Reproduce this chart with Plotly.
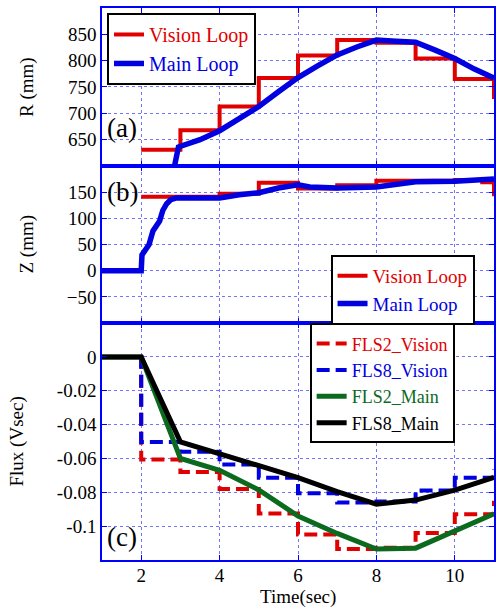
import plotly.graph_objects as go

# ---------------- data ----------------
# Panel (a): R (mm)
t_r_vision = [2, 3, 4, 5, 6, 7, 8, 9, 10, 11]
r_vision = [631, 668, 713, 767, 810, 839, 834, 804, 765, 727]
t_r_main = [2.85, 2.95, 3.5, 4, 4.5, 5, 5.5, 6, 6.5, 7, 7.5, 8, 8.5, 9, 9.5, 10, 10.5, 11]
r_main = [600, 636, 650, 667, 690, 713, 741, 768, 790, 811, 826, 839, 837, 835, 820, 804, 784, 767]

# Panel (b): Z (mm)
t_z_vision = [2, 4, 5, 6, 7, 8, 9, 10, 10.7, 11]
z_vision = [141, 147, 168, 157, 163, 172, 172, 173, 169, 142]
t_z_main = [1, 2, 2.02, 2.1, 2.2, 2.3, 2.4, 2.47, 2.55, 2.65, 2.76, 2.9, 3.5, 4, 4.5, 5,
            5.5, 6, 6.3, 7, 8, 8.5, 9, 10, 10.5, 11]
z_main = [0, 0, 30, 40, 50, 76, 85, 95, 115, 128, 136, 139, 139, 139, 145, 149,
          158, 164, 160, 158, 160, 165, 170, 171, 174, 175]

# Panel (c): Flux (Vsec)
t_flux = [1, 2, 3, 4, 5, 6, 7, 8, 9, 10, 11]
fls2_vision = [0, -0.0606, -0.068, -0.078, -0.0925, -0.105, -0.1135, -0.1128, -0.104, -0.093, -0.085]
fls8_vision = [0, -0.0503, -0.056, -0.0636, -0.0714, -0.0806, -0.086, -0.0855, -0.079, -0.0714, -0.0665]
fls2_main = [0, 0, -0.060, -0.067, -0.0786, -0.094, -0.1043, -0.1135, -0.113, -0.103, -0.0927]
fls8_main = [0, 0, -0.0502, -0.0572, -0.064, -0.0713, -0.0796, -0.087, -0.0846, -0.0787, -0.0712]

x_ticks = [2, 4, 6, 8, 10]
r_ticks = [650, 700, 750, 800, 850]
z_ticks = [-50, 0, 50, 100, 150]
f_ticks = [0, -0.02, -0.04, -0.06, -0.08, -0.1]
f_ticklabels = ["0", "-0.02", "-0.04", "-0.06", "-0.08", "-0.1"]

# ---------------- style ----------------
RED = "#e00000"
BLUE = "#0000e0"
GREEN = "#0b6a1e"
BLACK = "#000000"
AXBLUE = "#0000ff"
GRID = "rgba(0,0,255,0.55)"
FONT = "Liberation Serif"

def lbl(text, color):
    return f"<span style=\"font-family:'Liberation Serif',serif;color:{color}\">{text}</span>"

fig = go.Figure()

# (a)
fig.add_trace(go.Scatter(x=t_r_vision, y=r_vision, mode="lines", line=dict(color=RED, width=4, shape="hv"),
                         name=lbl("Vision Loop", RED), xaxis="x3", yaxis="y3", legend="legend"))
fig.add_trace(go.Scatter(x=t_r_main, y=r_main, mode="lines", line=dict(color=BLUE, width=5.5),
                         name=lbl("Main Loop", BLUE), xaxis="x3", yaxis="y3", legend="legend"))
# (b)
fig.add_trace(go.Scatter(x=t_z_vision, y=z_vision, mode="lines", line=dict(color=RED, width=4, shape="hv"),
                         name=lbl("Vision Loop", RED), xaxis="x2", yaxis="y2", legend="legend2"))
fig.add_trace(go.Scatter(x=t_z_main, y=z_main, mode="lines", line=dict(color=BLUE, width=5.5),
                         name=lbl("Main Loop", BLUE), xaxis="x2", yaxis="y2", legend="legend2"))
# (c)
fig.add_trace(go.Scatter(x=t_flux, y=fls2_vision, mode="lines",
                         line=dict(color=RED, width=4, shape="hv", dash="13px,6px"),
                         name=lbl("FLS2_Vision", RED), xaxis="x", yaxis="y", legend="legend3"))
fig.add_trace(go.Scatter(x=t_flux, y=fls8_vision, mode="lines",
                         line=dict(color=BLUE, width=4, shape="hv", dash="13px,6px"),
                         name=lbl("FLS8_Vision", BLUE), xaxis="x", yaxis="y", legend="legend3"))
fig.add_trace(go.Scatter(x=t_flux, y=fls2_main, mode="lines", line=dict(color=GREEN, width=5),
                         name=lbl("FLS2_Main", GREEN), xaxis="x", yaxis="y", legend="legend3"))
fig.add_trace(go.Scatter(x=t_flux, y=fls8_main, mode="lines", line=dict(color=BLACK, width=5),
                         name=lbl("FLS8_Main", BLACK), xaxis="x", yaxis="y", legend="legend3"))

axis_common = dict(showline=True, linecolor=AXBLUE, linewidth=1.5, mirror="ticks",
                   ticks="inside", ticklen=5, tickcolor=AXBLUE, tickwidth=1,
                   showgrid=True, gridcolor=GRID, griddash="dot", gridwidth=1,
                   zeroline=False, tickfont=dict(family=FONT, size=19, color="black"))

d_c = [0, 0.4293]
d_b = [0.4293, 0.7138]
d_a = [0.7138, 1.0]

leg_common = dict(xanchor="left", yanchor="top", bgcolor="white", bordercolor="black",
                  borderwidth=2)

fig.update_layout(
    width=497, height=607,
    margin=dict(l=102, r=1, t=8, b=47),
    paper_bgcolor="white", plot_bgcolor="white",
    font=dict(family=FONT, size=19, color="black"),
    xaxis=dict(axis_common, range=[1, 11], tickvals=x_ticks, anchor="y", domain=[0, 1],
               ticklabelstandoff=-3),
    xaxis2=dict(axis_common, range=[1, 11], tickvals=x_ticks, showticklabels=False, anchor="y2",
                matches="x"),
    xaxis3=dict(axis_common, range=[1, 11], tickvals=x_ticks, showticklabels=False, anchor="y3",
                matches="x"),
    yaxis=dict(axis_common, range=[-0.12, 0.02], tickvals=f_ticks, ticktext=f_ticklabels,
               domain=d_c, anchor="x"),
    yaxis2=dict(axis_common, range=[-100, 200], tickvals=z_ticks, domain=d_b, anchor="x2"),
    yaxis3=dict(axis_common, range=[600, 900], tickvals=r_ticks, domain=d_a, anchor="x3"),
    legend=dict(leg_common, x=0.0127, y=0.991, font=dict(family=FONT, size=20)),
    legend2=dict(leg_common, x=0.583, y=0.5525, font=dict(family=FONT, size=19)),
    legend3=dict(leg_common, x=0.5297, y=0.4288, font=dict(family=FONT, size=18)),
)

annos = [
    dict(text="(a)", x=1.08, y=673, xref="x3", yref="y3", xanchor="left", yanchor="middle",
         font=dict(family=FONT, size=27), showarrow=False),
    dict(text="(b)", x=1.08, y=150, xref="x2", yref="y2", xanchor="left", yanchor="middle",
         font=dict(family=FONT, size=27), showarrow=False),
    dict(text="(c)", x=1.08, y=-0.1065, xref="x", yref="y", xanchor="left", yanchor="middle",
         font=dict(family=FONT, size=27), showarrow=False),
    dict(text="R (mm)", x=0, xref="paper", y=(d_a[0] + d_a[1]) / 2, yref="paper", xshift=-75,
         textangle=-90, xanchor="center", yanchor="middle", showarrow=False,
         font=dict(family=FONT, size=19)),
    dict(text="Z (mm)", x=0, xref="paper", y=(d_b[0] + d_b[1]) / 2, yref="paper", xshift=-75,
         textangle=-90, xanchor="center", yanchor="middle", showarrow=False,
         font=dict(family=FONT, size=19)),
    dict(text="Flux (Vsec)", x=0, xref="paper", y=(d_c[0] + d_c[1]) / 2, yref="paper", xshift=-85,
         textangle=-90, xanchor="center", yanchor="middle", showarrow=False,
         font=dict(family=FONT, size=19)),
    dict(text="Time(sec)", x=0.5, xref="paper", y=0, yref="paper", yshift=-37,
         xanchor="center", yanchor="middle", showarrow=False, font=dict(family=FONT, size=19)),
]
fig.update_layout(annotations=annos)

fig.write_html("out.html")
